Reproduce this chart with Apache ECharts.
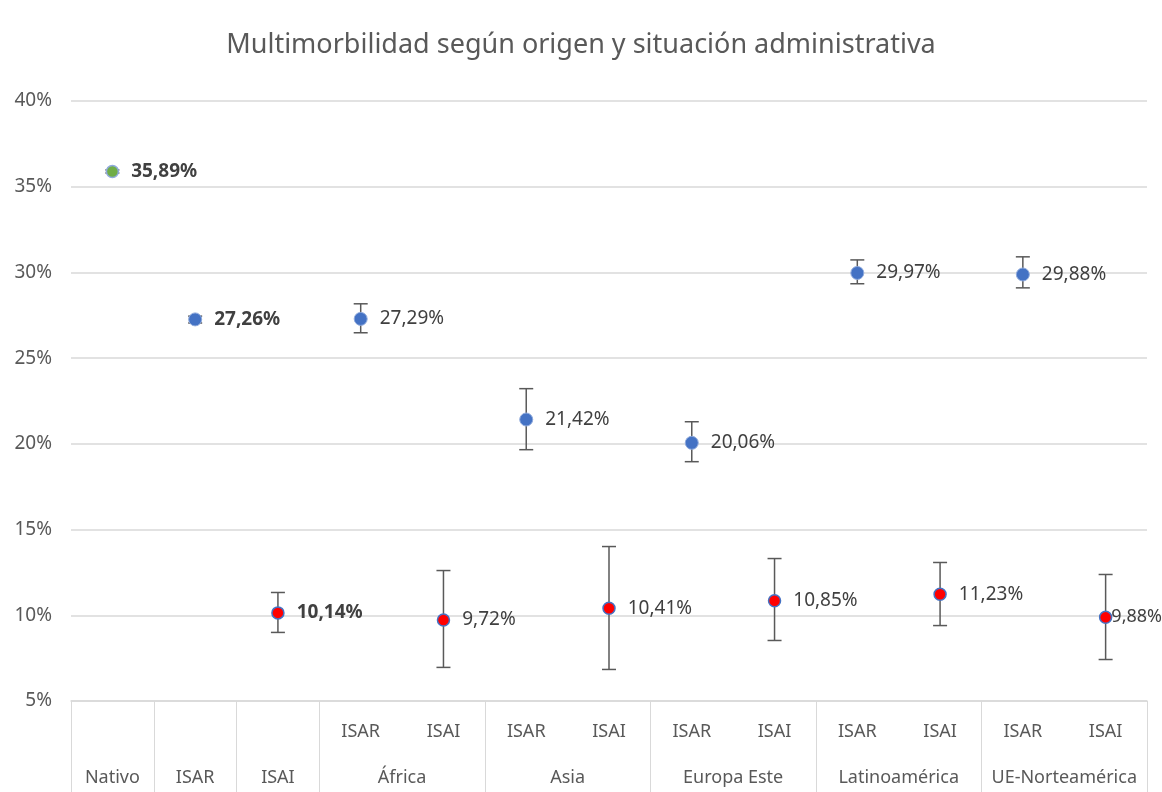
<!DOCTYPE html>
<html>
<head>
<meta charset="utf-8">
<script src="https://cdn.jsdelivr.net/npm/echarts@6/dist/echarts.min.js"></script>
<style>html,body{margin:0;padding:0;background:#fff}#c{width:1162px;height:792px}</style>
</head>
<body>
<div id="c"></div>
<script>
// ---- data ----
const subLabels = ['', '', '', 'ISAR', 'ISAI', 'ISAR', 'ISAI', 'ISAR', 'ISAI', 'ISAR', 'ISAI', 'ISAR', 'ISAI'];
const groupLabels = ['Nativo', 'ISAR', 'ISAI', 'África', 'Asia', 'Europa Este', 'Latinoamérica', 'UE-Norteamérica'];
const groupCenters = [0.5, 1.5, 2.5, 4, 6, 8, 10, 12];
const groupBounds = [0, 1, 2, 3, 5, 7, 9, 11, 13];
const nativoValues = [35.89, null, null, null, null, null, null, null, null, null, null, null, null];
const isarValues = [null, 27.26, null, 27.29, null, 21.42, null, 20.06, null, 29.97, null, 29.88, null];
const isaiValues = [null, null, 10.14, null, 9.72, null, 10.41, null, 10.85, null, 11.23, null, 9.88];
const errLow = [35.8, 27.05, 9.0, 26.48, 6.96, 19.66, 6.84, 18.96, 8.53, 29.34, 9.4, 29.1, 7.42];
const errHigh = [35.98, 27.45, 11.33, 28.17, 12.61, 23.22, 14.01, 21.29, 13.31, 30.73, 13.08, 30.91, 12.38];
const yTicks = [5, 10, 15, 20, 25, 30, 35, 40];

const FONT = 'Noto Sans';
const boldIdx = [0, 1, 2];
function fmt(v) { return v.toFixed(2).replace('.', ',') + '%'; }
function mkData(arr) {
  return arr.map((v, i) => {
    if (v == null) return null;
    const o = { value: v, label: { fontWeight: boldIdx.includes(i) ? 'bold' : 'normal' } };
    if (i === 12) { o.label.distance = -1; o.label.fontSize = 18; }
    return o;
  });
}
const labelCfg = {
  show: true, position: 'right', distance: 12, color: '#404040', fontSize: 19, fontFamily: FONT,
  formatter: p => fmt(p.value)
};
const errData = errLow.map((l, i) => [i, l, errHigh[i]]);

const chart = echarts.init(document.getElementById('c'), null, { renderer: 'canvas' });
chart.setOption({
  backgroundColor: '#fff',
  animation: false,
  title: {
    text: 'Multimorbilidad según origen y situación administrativa',
    left: 'center', top: 27,
    textStyle: { fontFamily: FONT, fontSize: 27, fontWeight: 'normal', color: '#595959' }
  },
  grid: { left: 71, right: 15, top: 101, bottom: 91 },
  xAxis: [
    {
      type: 'category', data: subLabels, boundaryGap: true,
      axisLine: { show: true, lineStyle: { color: '#d9d9d9', width: 1.5 } },
      axisTick: { show: false },
      axisLabel: { interval: 0, margin: 22, color: '#595959', fontSize: 18, fontFamily: FONT }
    },
    {
      type: 'value', position: 'bottom', min: 0, max: 13,
      axisLine: { show: false },
      splitLine: { show: false },
      axisTick: { show: true, customValues: groupBounds, length: 91, lineStyle: { color: '#d9d9d9', width: 1 } },
      axisLabel: {
        customValues: groupCenters, margin: 68, color: '#595959', fontSize: 18, fontFamily: FONT,
        formatter: v => groupLabels[groupCenters.indexOf(v)]
      }
    }
  ],
  yAxis: {
    type: 'value', min: 5, max: 40, interval: 5,
    axisLine: { show: false }, axisTick: { show: false },
    splitLine: { lineStyle: { color: '#d9d9d9', width: 1.5 } },
    axisLabel: { margin: 19, color: '#595959', fontSize: 19, fontFamily: FONT, formatter: v => yTicks.includes(v) ? v + '%' : '' }
  },
  series: [
    {
      type: 'custom', name: 'err', xAxisIndex: 0, z: 2,
      renderItem: function (params, api) {
        const x = api.value(0);
        const lo = api.coord([x, api.value(1)]);
        const hi = api.coord([x, api.value(2)]);
        const w = 7;
        const st = { stroke: '#595959', lineWidth: 1.5 };
        return {
          type: 'group', children: [
            { type: 'line', shape: { x1: lo[0], y1: lo[1], x2: hi[0], y2: hi[1] }, style: st },
            { type: 'line', shape: { x1: lo[0] - w, y1: lo[1], x2: lo[0] + w, y2: lo[1] }, style: st },
            { type: 'line', shape: { x1: hi[0] - w, y1: hi[1], x2: hi[0] + w, y2: hi[1] }, style: st }
          ]
        };
      },
      encode: { x: 0, y: [1, 2] },
      data: errData
    },
    {
      type: 'scatter', name: 'Nativo', symbolSize: 12, z: 5, data: mkData(nativoValues),
      itemStyle: { color: '#70AD47', borderColor: '#8FAADC', borderWidth: 1.5, opacity: 1 }, label: labelCfg
    },
    {
      type: 'scatter', name: 'ISAR', symbolSize: 13, z: 5, data: mkData(isarValues),
      itemStyle: { color: '#4472C4', borderColor: '#8FAADC', borderWidth: 1, opacity: 1 }, label: labelCfg
    },
    {
      type: 'scatter', name: 'ISAI', symbolSize: 12, z: 5, data: mkData(isaiValues),
      itemStyle: { color: '#FF0000', borderColor: '#4472C4', borderWidth: 1.5, opacity: 1 }, label: labelCfg
    }
  ]
});
</script>
</body>
</html>
